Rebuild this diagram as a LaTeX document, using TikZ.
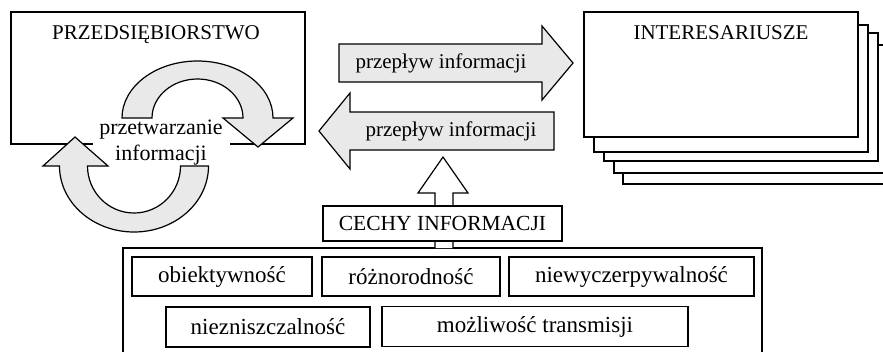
\documentclass[tikz,border=0pt]{standalone}
\usepackage{fontspec}
\setmainfont{Liberation Serif}
\definecolor{arrowgray}{RGB}{233,233,233}
\begin{document}
\begin{tikzpicture}[x=1pt,y=1pt,yscale=-1,
  txt/.style={font=\fontsize{21}{26}\selectfont, inner sep=0pt},
  boxline/.style={draw=black, line width=1.4pt},
  arrowshape/.style={draw=black, line width=1.2pt, fill=arrowgray, line join=miter},
  featbox/.style={boxline, fill=white, minimum height=39pt, inner sep=0pt, font=\fontsize{23}{28}\selectfont}]
\clip (0,0) rectangle (883,351);
\fill[white] (0,0) rectangle (883,351);

% enterprise box
\draw[boxline] (11,12) rectangle (305,144);
\node[txt] (firm) at (156,35) {PRZEDSIĘBIORSTWO};

% processing text (white background)
\node[txt, font=\fontsize{22}{26}\selectfont, fill=white, minimum width=137pt, minimum height=46pt, align=center] (proc) at (161,143) {przetwarzanie\\informacji};

% upper circular arrow
\draw[arrowshape] (122,118) arc[start angle=180, end angle=360, x radius=75.5, y radius=57]
  -- (293,118) -- (258,147) -- (223,118) -- (243,118)
  arc[start angle=0, end angle=-180, x radius=45.5, y radius=39] -- cycle;
% lower circular arrow
\draw[arrowshape] (208.5,166) arc[start angle=0, end angle=180, x radius=74.5, y radius=66]
  -- (43,166) -- (75,137) -- (108,166) -- (87.5,166)
  arc[start angle=180, end angle=0, x radius=46.5, y radius=47] -- cycle;

% flow arrows
\draw[arrowshape] (339,44) -- (542,44) -- (542,26) -- (573,63) -- (542,100) -- (542,82) -- (339,82) -- cycle;
\node[txt] (flow1) at (441,63) {przepływ informacji};
\draw[arrowshape] (554,112) -- (350,112) -- (350,93) -- (319,131) -- (350,169) -- (350,150) -- (554,150) -- cycle;
\node[txt] (flow2) at (451,131) {przepływ informacji};

% stakeholders stack
\draw[boxline, fill=white] (623,56) rectangle (898,184);
\draw[boxline, fill=white] (614,45) rectangle (888,173);
\draw[boxline, fill=white] (604,33) rectangle (878,161);
\draw[boxline, fill=white] (594,25) rectangle (868,152);
\draw[boxline, fill=white] (584,12) rectangle (858,137);
\node[txt] (stake) at (721,33) {INTERESARIUSZE};

% outer features box
\draw[boxline] (123,248) rectangle (762,370);

% up arrow
\filldraw[draw=black, line width=1.2pt, fill=white, line join=miter]
  (435,248) -- (435,193) -- (418,193) -- (443,157) -- (468,193) -- (453,193) -- (453,248);

% features header
\node[featbox, font=\fontsize{21.5}{26}\selectfont, minimum width=239pt, minimum height=35pt] (cechy) at (442.5,223.5) {CECHY INFORMACJI};

% features
\node[featbox, minimum width=180pt] (f1) at (222,276.5) {obiektywność};
\node[featbox, minimum width=178pt] (f2) at (411,276.5) {różnorodność};
\node[featbox, minimum width=245pt] (f3) at (631.5,276.5) {niewyczerpywalność};
\node[featbox, minimum width=204pt, minimum height=40pt] (f4) at (268,327) {niezniszczalność};
\node[featbox, minimum width=306pt, minimum height=40pt] (f5) at (535,326.5) {możliwość transmisji};
\end{tikzpicture}
\end{document}
